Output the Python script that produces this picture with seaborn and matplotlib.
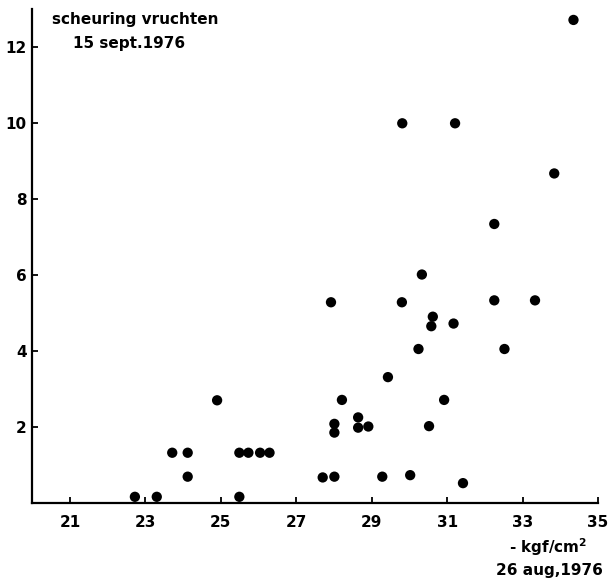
import numpy as np
import matplotlib
matplotlib.use("Agg")
import matplotlib.pyplot as plt
import pandas as pd
import seaborn as sns

# druk 26 aug (kgf/cm2) vs scheuring vruchten 15 sept
druk = [22.72, 23.30, 23.71, 24.12, 24.12, 24.90, 25.49, 25.73, 25.49, 26.04, 26.29,
        27.70, 28.01, 27.92, 29.80, 30.33, 32.25, 33.33, 30.62, 30.58, 31.17,
        30.24, 32.52, 29.43, 28.21, 30.92, 28.01, 28.01, 28.64, 28.64, 28.91,
        30.52, 29.28, 30.02, 31.42,
        34.35, 29.81, 31.21, 33.84, 32.25]
scheuring = [0.15, 0.15, 1.31, 1.31, 0.68, 2.69, 1.31, 1.31, 0.15, 1.31, 1.31,
             0.66, 0.68, 5.27, 5.27, 6.00, 5.32, 5.32, 4.89, 4.64, 4.71,
             4.04, 4.04, 3.30, 2.70, 2.70, 2.07, 1.84, 2.24, 1.97, 2.00,
             2.01, 0.68, 0.72, 0.51,
             12.70, 9.98, 9.98, 8.66, 7.33]
x_ticks = [21, 23, 25, 27, 29, 31, 33, 35]
y_ticks = [2, 4, 6, 8, 10, 12]

df = pd.DataFrame({"druk": druk, "scheuring": scheuring})

sns.set_style("ticks")
plt.rcParams['font.family'] = ['DejaVu Sans']
plt.rcParams['text.color'] = 'black'

fig = plt.figure(figsize=(6.11, 5.85), dpi=100)
ax = fig.add_axes([0.0529, 0.141, 0.9258, 0.8444])

sns.scatterplot(data=df, x="druk", y="scheuring", ax=ax, color="black",
                edgecolor="none", s=55, legend=False)

ax.set_xlim(20, 35)
ax.set_ylim(0, 13)
ax.set_xticks(x_ticks)
ax.set_yticks(y_ticks)
ax.set_xlabel("")
ax.set_ylabel("")
sns.despine(ax=ax)
for sp in ["left", "bottom"]:
    ax.spines[sp].set_linewidth(1.6)
    ax.spines[sp].set_color("black")
ax.tick_params(axis="both", direction="in", length=4, width=1.3, colors="black",
               labelsize=11)
ax.tick_params(axis="x", pad=9)
ax.tick_params(axis="y", pad=4)
for lab in ax.get_xticklabels() + ax.get_yticklabels():
    lab.set_fontweight("bold")

fig.text(0.085, 0.966, "scheuring vruchten", fontsize=11, fontweight="bold",
         ha="left", va="center", color="black")
fig.text(0.12, 0.926, "15 sept.1976", fontsize=11, fontweight="bold",
         ha="left", va="center", color="black")
fig.text(0.962, 0.065, "- kgf/cm$^\\mathbf{2}$", fontsize=11, fontweight="bold",
         ha="right", va="center", color="black")
fig.text(0.987, 0.025, "26 aug,1976", fontsize=11, fontweight="bold",
         ha="right", va="center", color="black")

fig.savefig("out.png", dpi=100)
